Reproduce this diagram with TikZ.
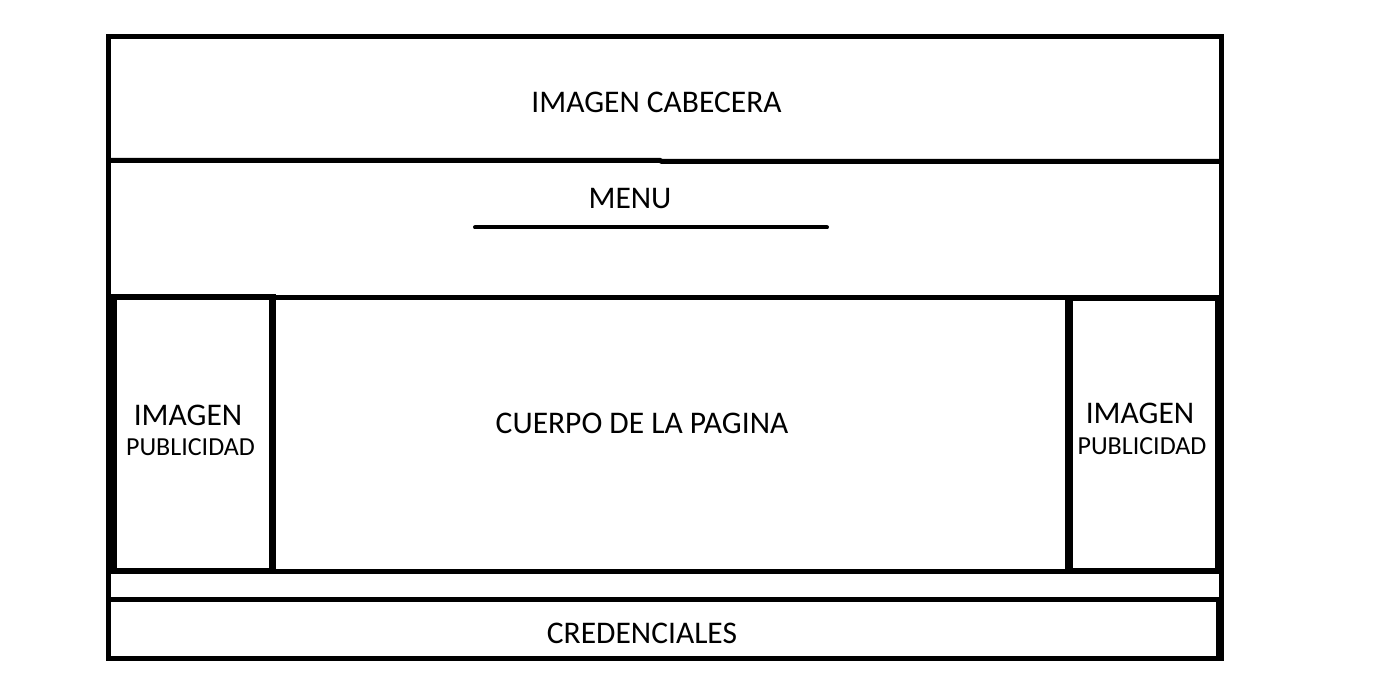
\documentclass[tikz,border=0pt]{standalone}
\usepackage{fontspec}
\setmainfont{Carlito}
\begin{document}
\begin{tikzpicture}[x=1pt,y=-1pt,
  frame/.style={draw=black,line width=5pt},
  adframe/.style={draw=black,line width=6.5pt},
  bigtext/.style={inner sep=0pt,anchor=base,font=\fontsize{31.5}{36}\selectfont},
  smalltext/.style={inner sep=0pt,anchor=base,font=\fontsize{26}{30}\selectfont}]
\useasboundingbox[fill=white] (0,0) rectangle (1393,695);
% outer page
\draw[frame] (108.5,36.5) rectangle (1221,658);
% horizontal separators
\draw[frame] (108.5,160.5) -- (660,160.5) -- (662,161.5) -- (1221,161.5);
\draw[frame] (108.5,297.5) -- (1221,297.5);
\draw[frame] (272.5,571) -- (1068.5,571);
\draw[frame] (108.5,599.5) -- (1221,599.5);
% credenciales box right edge
\draw[frame] (1218.5,599.5) -- (1218.5,658);
% left ad box
\draw[adframe] (113.5,297) rectangle (272.5,571);
% right ad box
\draw[adframe] (1068.5,298) -- (1218.5,298) -- (1218.5,571) -- (1068.5,571) -- cycle;
\draw[draw=black,line width=8pt] (1068.5,298) -- (1068.5,571);
% menu underline
\coordinate (ulA) at (475,227.5);
\coordinate (ulB) at (827,227.5);
\draw[line width=4pt,line cap=round] (ulA) -- (ulB);
% texts
\node[bigtext] (cab) at (656.5,112.3) {IMAGEN CABECERA};
\node[bigtext] (menu) at (630,208.3) {MENU};
\node[bigtext] (cuerpo) at (642,433.3) {CUERPO DE LA PAGINA};
\node[bigtext] (cred) at (642,643.3) {CREDENCIALES};
\node[bigtext] (imgL) at (188,425) {IMAGEN};
\node[smalltext] (pubL) at (190.5,455.7) {PUBLICIDAD};
\node[bigtext] (imgR) at (1140,423.3) {IMAGEN};
\node[smalltext] (pubR) at (1142,454) {PUBLICIDAD};
\end{tikzpicture}
\end{document}
